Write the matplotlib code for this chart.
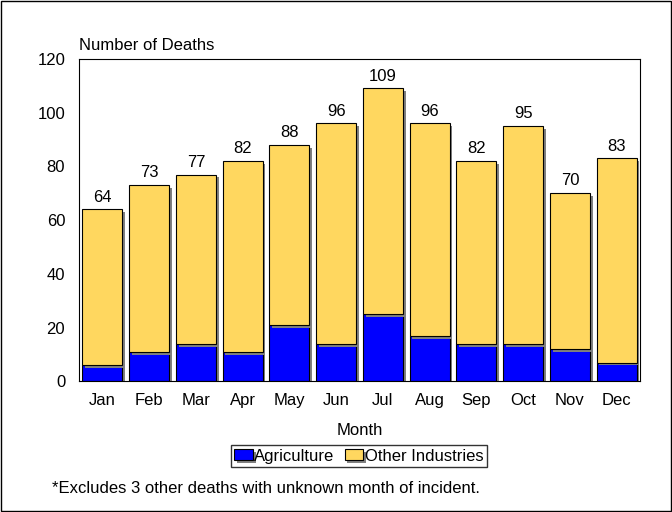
import matplotlib.pyplot as plt
import matplotlib.patheffects as pe
from matplotlib.patches import Rectangle

plt.rcParams['font.family'] = ['Liberation Sans', 'DejaVu Sans']

months = ['Jan', 'Feb', 'Mar', 'Apr', 'May', 'Jun', 'Jul', 'Aug', 'Sep', 'Oct', 'Nov', 'Dec']
totals = [64, 73, 77, 82, 88, 96, 109, 96, 82, 95, 70, 83]
agriculture = [6, 11, 14, 11, 21, 14, 25, 17, 14, 14, 12, 7]
other = [t - a for t, a in zip(totals, agriculture)]

fig = plt.figure(figsize=(6.72, 5.12), dpi=100)
ax = fig.add_axes([0.1176, 0.2549, 0.8348, 0.63])

shadow = [pe.SimplePatchShadow(offset=(2, -2), shadow_rgbFace='#808080', alpha=1.0), pe.Normal()]
x = range(len(months))
b1 = ax.bar(x, agriculture, width=0.855, color='#0000ff', edgecolor='black', linewidth=0.8,
            label='Agriculture', path_effects=shadow)
b2 = ax.bar(x, other, width=0.855, bottom=agriculture, color='#ffd75f', edgecolor='black',
            linewidth=0.8, label='Other Industries', path_effects=shadow)

for i, t in enumerate(totals):
    ax.text(i, t + 1.8, str(t), ha='center', va='bottom', fontsize=12)

ax.set_xlim(-0.5, len(months) - 0.5)
ax.set_ylim(0, 120)
ax.set_yticks(range(0, 121, 20))
ax.set_xticks(list(x))
ax.set_xticklabels(months)
ax.tick_params(axis='x', length=0, pad=8, labelsize=12)
ax.tick_params(axis='y', length=0, pad=10, labelsize=12)
ax.set_xlabel('Month', fontsize=12, labelpad=11)
fig.text(0.1176, 0.912, 'Number of Deaths', fontsize=12, ha='left', va='center')

fig.legend(handles=[b1, b2], loc='center', bbox_to_anchor=(0.534, 0.109), ncol=2, fontsize=12,
           frameon=True, fancybox=False, edgecolor='black', handlelength=1.1, handleheight=0.65,
           handletextpad=0.1, columnspacing=0.6, borderpad=0.2, borderaxespad=0)
fig.text(0.077, 0.045, '*Excludes 3 other deaths with unknown month of incident.', fontsize=12,
         ha='left', va='center')

fig.patches.append(Rectangle((0.001, 0.001), 0.997, 0.997, transform=fig.transFigure,
                             fill=False, edgecolor='black', linewidth=1))

fig.savefig('out.png', dpi=100)
